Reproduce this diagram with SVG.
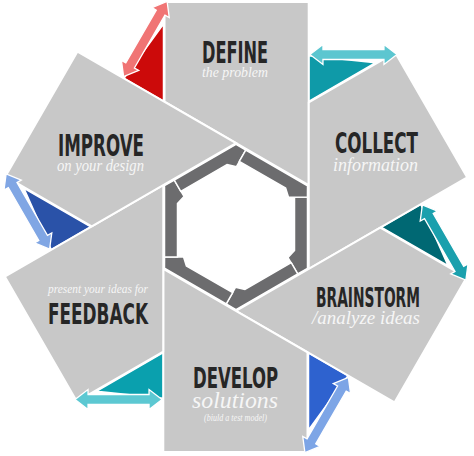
<svg xmlns="http://www.w3.org/2000/svg" xmlns:xlink="http://www.w3.org/1999/xlink" width="474" height="456" viewBox="0 0 474 456">
<style>
.panel{fill:#c8c8c8;stroke:#fff;stroke-width:2;stroke-linejoin:miter}
.tri{stroke:#fff;stroke-width:1.5;stroke-linejoin:miter}
.dbl{stroke:#fff;stroke-width:1.3;stroke-linejoin:miter}
.seg{fill:#6c6c6e;stroke:#fff;stroke-width:1.5;stroke-linejoin:miter}
.head{font-family:"Liberation Sans Narrow","DejaVu Sans Condensed","Liberation Sans",sans-serif;font-weight:bold;fill:#262626}
.sub{font-family:"Liberation Serif","DejaVu Serif",serif;font-style:italic;fill:#f6f6f6}
</style>
<defs>
<polygon id="panel" points="-71.5,-225 72.7,-225 72.7,-42 -71.5,-125.3"/>
<polygon id="tri" points="-112,-148.6 -72.5,-203 -72.5,-125.8"/>
<polygon id="dbl" points="0,0 13,-10 13,-5 74,-5 74,-10 87,0 74,10 74,5 13,5 13,10"/>
<polygon id="seg" points="58.5,-30 71.5,-30 71.5,41.3 61.7,46.9 52,30.6 58.5,23.5"/>
</defs>
<rect width="474" height="456" fill="#fff"/>
<g id="accents">
<use xlink:href="#tri" class="tri" fill="#cc0a0a" transform="translate(236,227) rotate(0)"/>
<use xlink:href="#tri" class="tri" fill="#0f9aa8" transform="translate(236,227) rotate(60)"/>
<use xlink:href="#tri" class="tri" fill="#006873" transform="translate(236,227) rotate(120)"/>
<use xlink:href="#tri" class="tri" fill="#2e62cf" transform="translate(236,227) rotate(180)"/>
<use xlink:href="#tri" class="tri" fill="#0aa0ae" transform="translate(236,227) rotate(240)"/>
<use xlink:href="#tri" class="tri" fill="#2a52a8" transform="translate(236,227) rotate(300)"/>
</g>
<g id="node-define">
<use xlink:href="#panel" class="panel" transform="translate(236,227) rotate(0)"/>
<text class="head" x="202" y="63" font-size="31" textLength="66" lengthAdjust="spacingAndGlyphs">DEFINE</text>
<text class="sub" x="202" y="77" font-size="15.5" textLength="66" lengthAdjust="spacingAndGlyphs">the problem</text>
</g>
<g id="node-collect">
<use xlink:href="#panel" class="panel" transform="translate(236,227) rotate(60)"/>
<text class="head" x="335" y="153" font-size="29" textLength="83" lengthAdjust="spacingAndGlyphs">COLLECT</text>
<text class="sub" x="333" y="171" font-size="18" textLength="85" lengthAdjust="spacingAndGlyphs">information</text>
</g>
<g id="node-brainstorm">
<use xlink:href="#panel" class="panel" transform="translate(236,227) rotate(120)"/>
<text class="head" x="316" y="307" font-size="27" textLength="104" lengthAdjust="spacingAndGlyphs">BRAINSTORM</text>
<text class="sub" x="312" y="323.5" font-size="19.5" textLength="108" lengthAdjust="spacingAndGlyphs">/analyze ideas</text>
</g>
<g id="node-develop">
<use xlink:href="#panel" class="panel" transform="translate(236,227) rotate(180)"/>
<text class="head" x="193" y="388" font-size="28" textLength="85" lengthAdjust="spacingAndGlyphs">DEVELOP</text>
<text class="sub" x="192" y="408" font-size="24" textLength="86" lengthAdjust="spacingAndGlyphs">solutions</text>
<text class="sub" x="204" y="420.5" font-size="9.5" textLength="63" lengthAdjust="spacingAndGlyphs">(biuld a test model)</text>
</g>
<g id="node-feedback">
<use xlink:href="#panel" class="panel" transform="translate(236,227) rotate(240)"/>
<text class="sub" x="48" y="292.5" font-size="13" textLength="100" lengthAdjust="spacingAndGlyphs">present your ideas for</text>
<text class="head" x="48" y="324" font-size="29" textLength="100" lengthAdjust="spacingAndGlyphs">FEEDBACK</text>
</g>
<g id="node-improve">
<use xlink:href="#panel" class="panel" transform="translate(236,227) rotate(300)"/>
<text class="head" x="58" y="156" font-size="31" textLength="86" lengthAdjust="spacingAndGlyphs">IMPROVE</text>
<text class="sub" x="57" y="171" font-size="16" textLength="87" lengthAdjust="spacingAndGlyphs">on your design</text>
</g>
<g id="connectors">
<g id="cycle" transform="translate(236,227)">
<use xlink:href="#seg" class="seg" transform="rotate(0)"/>
<use xlink:href="#seg" class="seg" transform="rotate(60)"/>
<use xlink:href="#seg" class="seg" transform="rotate(120)"/>
<use xlink:href="#seg" class="seg" transform="rotate(180)"/>
<use xlink:href="#seg" class="seg" transform="rotate(240)"/>
<use xlink:href="#seg" class="seg" transform="rotate(300)"/>
</g>
<g id="links" transform="translate(236,227)">
<use xlink:href="#dbl" class="dbl" fill="#f07474" transform="rotate(0) translate(-112.4,-150.3) rotate(-60)"/>
<use xlink:href="#dbl" class="dbl" fill="#5cc6d0" transform="rotate(60) translate(-112.4,-150.3) rotate(-60)"/>
<use xlink:href="#dbl" class="dbl" fill="#1aa0ad" transform="rotate(120) translate(-112.4,-150.3) rotate(-60)"/>
<use xlink:href="#dbl" class="dbl" fill="#7da5e6" transform="rotate(180) translate(-112.4,-150.3) rotate(-60)"/>
<use xlink:href="#dbl" class="dbl" fill="#5cc8d2" transform="rotate(240) translate(-112.4,-150.3) rotate(-60)"/>
<use xlink:href="#dbl" class="dbl" fill="#80a6e4" transform="rotate(300) translate(-112.4,-150.3) rotate(-60)"/>
</g>
</g>
</svg>
